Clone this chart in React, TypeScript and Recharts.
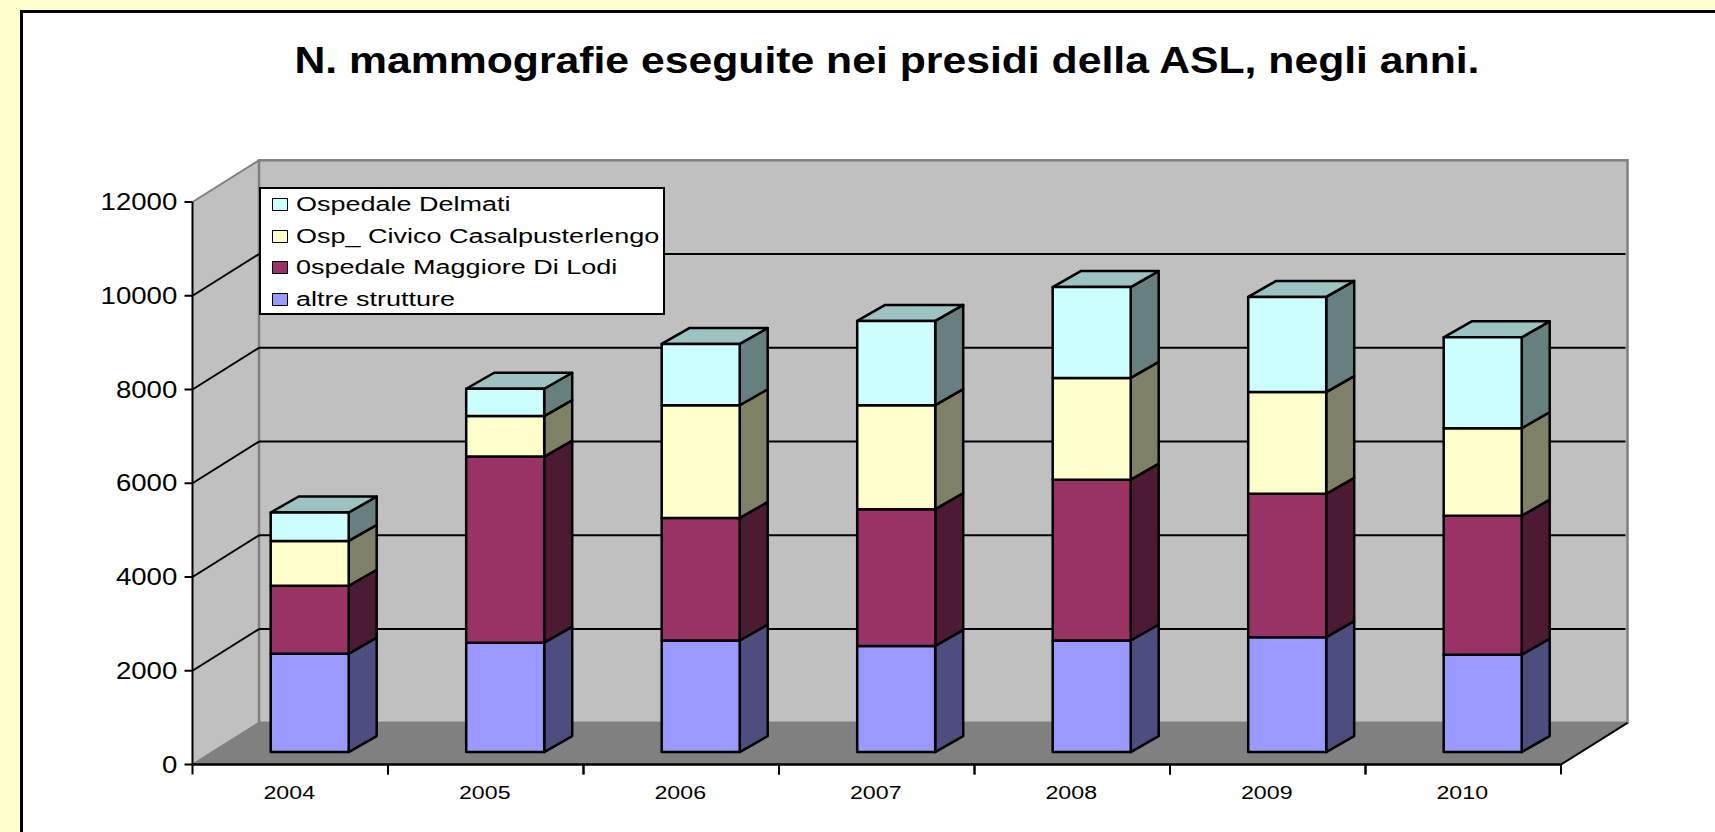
import { Bar, BarChart, Legend, XAxis, YAxis, usePlotArea } from 'recharts'

const years = ['2004', '2005', '2006', '2007', '2008', '2009', '2010']
const altreStrutture = [2100, 2335, 2380, 2265, 2380, 2451, 2078]
const maggioreLodi = [1448, 3969, 2615, 2918, 3432, 3058, 2965]
const civicoCasale = [957, 864, 2405, 2218, 2171, 2171, 1868]
const delmati = [607, 584, 1307, 1798, 1938, 2031, 1938]
const yTicks = [0, 2000, 4000, 6000, 8000, 10000, 12000]
const yMax = 12000

const data = years.map((year, i) => ({
    year,
    altre: altreStrutture[i],
    maggiore: maggioreLodi[i],
    civico: civicoCasale[i],
    delmati: delmati[i],
}))

const seriesList = [
    { key: 'altre', name: 'altre strutture', front: '#9999FF', side: '#4D4D80', top: '#7A7ACC' },
    { key: 'maggiore', name: '0spedale Maggiore Di Lodi', front: '#993366', side: '#4D1A33', top: '#7A2952' },
    { key: 'civico', name: 'Osp_ Civico Casalpusterlengo', front: '#FFFFCC', side: '#808066', top: '#CCCCA3' },
    { key: 'delmati', name: 'Ospedale Delmati', front: '#CCFFFF', side: '#668080', top: '#9CC2C2' },
]

// fake 3d: how far the back wall and the bars sit behind the axis plane
const WALL_DX = 66.5
const WALL_DY = 41.7
const BAR_SHIFT_X = 19.2
const BAR_SHIFT_Y = 12.4
const BAR_DEPTH_X = 28
const BAR_DEPTH_Y = 16

function Walls() {
    const plot = usePlotArea()
    if (!plot) return null
    const left = plot.x
    const right = plot.x + plot.width
    const bottom = plot.y + plot.height
    const top = plot.y
    const yOf = (v: number) => bottom - (v / yMax) * plot.height
    return (
        <g>
            <polygon
                points={`${left},${bottom} ${left},${top} ${left + WALL_DX},${top - WALL_DY} ${left + WALL_DX},${bottom - WALL_DY}`}
                fill="#C0C0C0"
            />
            <rect
                x={left + WALL_DX}
                y={top - WALL_DY}
                width={right - left}
                height={plot.height}
                fill="#C0C0C0"
                stroke="#808080"
                strokeWidth={2.5}
            />
            <polygon
                points={`${left},${bottom} ${right},${bottom} ${right + WALL_DX},${bottom - WALL_DY} ${left + WALL_DX},${bottom - WALL_DY}`}
                fill="#808080"
            />
            {yTicks.map((t) => {
                const y = yOf(t)
                const edge = t === 0 || t === yMax
                return (
                    <g key={t}>
                        <line
                            x1={left}
                            y1={y}
                            x2={left + WALL_DX}
                            y2={y - WALL_DY}
                            stroke={edge ? '#808080' : '#000'}
                            strokeWidth={2}
                        />
                        {!edge && (
                            <line
                                x1={left + WALL_DX}
                                y1={y - WALL_DY}
                                x2={right + WALL_DX - 2}
                                y2={y - WALL_DY}
                                stroke="#000"
                                strokeWidth={2}
                            />
                        )}
                    </g>
                )
            })}
            <line
                x1={right}
                y1={bottom}
                x2={right + WALL_DX}
                y2={bottom - WALL_DY}
                stroke="#000"
                strokeWidth={2}
            />
        </g>
    )
}

function Bar3D(props: any) {
    const { x, y, width, height, fill, side, top, isTop } = props
    const fx = x + BAR_SHIFT_X
    const fy = y - BAR_SHIFT_Y
    const rx = fx + width
    const by = fy + height
    return (
        <g stroke="#000" strokeWidth={2.5} strokeLinejoin="round">
            <polygon
                points={`${rx},${fy} ${rx + BAR_DEPTH_X},${fy - BAR_DEPTH_Y} ${rx + BAR_DEPTH_X},${by - BAR_DEPTH_Y} ${rx},${by}`}
                fill={side}
            />
            {isTop && (
                <polygon
                    points={`${fx},${fy} ${fx + BAR_DEPTH_X},${fy - BAR_DEPTH_Y} ${rx + BAR_DEPTH_X},${fy - BAR_DEPTH_Y} ${rx},${fy}`}
                    fill={top}
                />
            )}
            <rect x={fx} y={fy} width={width} height={height} fill={fill} />
        </g>
    )
}

function YTick(props: any) {
    const { x, y, payload } = props
    return (
        <g transform={`translate(${x},${y})`}>
            <line x1={0} y1={0} x2={8} y2={0} stroke="#000" strokeWidth={2} />
            <text x={-6} y={8} textAnchor="end" fontSize={23} fill="#000" fontFamily="Liberation Sans" transform="scale(1.2,1)">
                {payload.value}
            </text>
        </g>
    )
}

function XTick(props: any) {
    const { x, y, width, payload } = props
    const band = width / years.length
    return (
        <g>
            <line x1={x - band / 2} y1={y - 8} x2={x - band / 2} y2={y + 2} stroke="#000" strokeWidth={2} />
            <line x1={x + band / 2} y1={y - 8} x2={x + band / 2} y2={y + 2} stroke="#000" strokeWidth={2} />
            <g transform={`translate(${x - 1},${y + 26})`}>
                <text textAnchor="middle" fontSize={19} fill="#000" fontFamily="Liberation Sans" transform="scale(1.22,1)">
                    {payload.value}
                </text>
            </g>
        </g>
    )
}

function LegendBox() {
    return (
        <div
            style={{
                width: 402,
                height: 124,
                boxSizing: 'content-box',
                background: '#fff',
                border: '2px solid #000',
                fontFamily: 'Liberation Sans',
                fontSize: 20,
                color: '#000',
            }}
        >
            {[...seriesList].reverse().map((s) => (
                <div key={s.key} style={{ height: 31.5, display: 'flex', alignItems: 'center', whiteSpace: 'nowrap' }}>
                    <span
                        style={{
                            display: 'inline-block',
                            width: 14,
                            height: 11,
                            marginLeft: 11,
                            marginRight: 8,
                            background: s.front,
                            border: '1.5px solid #000',
                        }}
                    />
                    <span style={{ display: 'inline-block', transform: 'scaleX(1.35)', transformOrigin: 'left center' }}>
                        {s.name}
                    </span>
                </div>
            ))}
        </div>
    )
}

export default function App() {
    return (
        <div style={{ position: 'absolute', left: 0, top: 0, width: 1715, height: 832, background: '#FFFFCC', overflow: 'hidden' }}>
            <div
                style={{
                    position: 'absolute',
                    left: 20,
                    top: 10,
                    width: 1715,
                    height: 840,
                    background: '#fff',
                    border: '3px solid #000',
                    boxSizing: 'border-box',
                }}
            />
            <div style={{ position: 'absolute', left: 0, top: 0 }}>
                <BarChart
                    width={1715}
                    height={832}
                    data={data}
                    barSize={78}
                    margin={{ top: 202, right: 154, bottom: 27.5, left: 132.5 }}
                >
                    <text
                        x={887}
                        y={73}
                        textAnchor="middle"
                        fontFamily="Liberation Sans"
                        fontWeight="bold"
                        fontSize={36}
                        textLength={1185}
                        lengthAdjust="spacingAndGlyphs"
                        fill="#000"
                    >
                        N. mammografie eseguite nei presidi della ASL, negli anni.
                    </text>
                    <Walls />
                    <XAxis
                        dataKey="year"
                        height={40}
                        tickLine={false}
                        axisLine={{ stroke: '#000', strokeWidth: 2.5 }}
                        tick={<XTick />}
                        interval={0}
                    />
                    <YAxis
                        width={60}
                        domain={[0, yMax]}
                        ticks={yTicks}
                        tickLine={false}
                        axisLine={{ stroke: '#000', strokeWidth: 2 }}
                        tick={<YTick />}
                        interval={0}
                    />
                    {seriesList.map((s, i) => (
                        <Bar
                            key={s.key}
                            dataKey={s.key}
                            name={s.name}
                            stackId="a"
                            fill={s.front}
                            isAnimationActive={false}
                            shape={(p: any) => <Bar3D {...p} side={s.side} top={s.top} isTop={i === seriesList.length - 1} />}
                        />
                    ))}
                    <Legend
                        layout="vertical"
                        align="center"
                        verticalAlign="middle"
                        content={<LegendBox />}
                        wrapperStyle={{ left: 259, top: 187, width: 406 }}
                    />
                </BarChart>
            </div>
        </div>
    )
}
